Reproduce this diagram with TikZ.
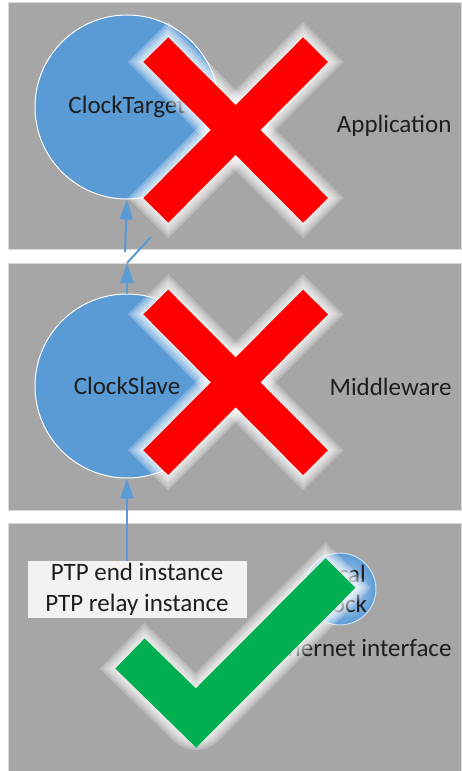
\documentclass[tikz,border=0pt]{standalone}
\usepackage{fontspec}
\setmainfont{Carlito}
\usetikzlibrary{arrows.meta}

\definecolor{panelgray}{HTML}{A6A6A6}
\definecolor{clockblue}{HTML}{5B9BD5}
\definecolor{clocklight}{HTML}{C9DDF2}
\definecolor{crossred}{HTML}{FF0000}
\definecolor{tickgreen}{HTML}{00B050}
\definecolor{boxwhite}{HTML}{F2F2F2}
\definecolor{inkdark}{HTML}{1E1E1E}

\tikzset{
  layerbox/.style={fill=panelgray, draw=gray!30, line width=1pt},
  layername/.style={anchor=east, text=inkdark, font=\fontsize{25}{30}\selectfont},
  clock/.style={circle, fill=clockblue, draw=white, line width=1pt,
    minimum size=184pt, inner sep=0pt, text=inkdark,
    font=\fontsize{25}{30}\selectfont},
  flow/.style={draw=clockblue, line width=2pt,
    -{Triangle[length=20pt, width=13pt]}},
  wire/.style={draw=clockblue, line width=2pt},
  halo/.style={white, opacity=0.24, line cap=rect, line join=round}
}

\begin{document}
\begin{tikzpicture}[x=1pt,y=-1pt]

  \useasboundingbox (0,0) rectangle (461,771);

  % layers
  \draw[layerbox] (8,2) rectangle (461,249);
  \draw[layerbox] (8,263) rectangle (461,510);
  \draw[layerbox] (8,523) rectangle (461,772);

  \node[layername] (app) at (455,126) {Application};
  \node[layername] (mid) at (455,387) {Middleware};
  \node[layername] (eth) at (455,648) {Ethernet interface};

  % clocks
  \node[clock] (target) at (127,107) {ClockTarget};
  \node[clock] (slave) at (127,386) {ClockSlave};
  \node[circle, draw=white!70!clockblue, line width=1pt, inner sep=0pt,
    shading=radial, inner color=clocklight, outer color=clockblue,
    text=inkdark, align=center, font=\fontsize{25}{30}\selectfont]
    (local) at (340,589) {Local\\Clock};

  % ptp instances
  \node[fill=boxwhite, minimum width=219pt, minimum height=57pt,
    inner sep=0pt, align=center, text=inkdark,
    font=\fontsize{25}{31}\selectfont]
    (ptp) at (137,589.5) {PTP end instance\\PTP relay instance};

  % connectors
  \coordinate (kink) at (127,263);
  \coordinate (kinkend) at (151,237);
  \coordinate (stub) at (125,252);
  \draw[flow] (ptp.north -| slave.south) -- (slave.south);
  \draw[flow] (slave.north) -- (kink);
  \draw[wire] (kink) -- (kinkend);
  \draw[flow] (stub) -- (target.south);

  % crosses with glow
  \foreach \cy in {130,382.3} {
    \foreach \w in {57,52,47,43,39} {
      \draw[halo, line width=\w pt, shorten <=17.5pt, shorten >=17.5pt]
        (155.8,\cy-80.3) -- (315.5,\cy+80.3);
      \draw[halo, line width=\w pt, shorten <=17.5pt, shorten >=17.5pt]
        (315.5,\cy-80.3) -- (155.8,\cy+80.3);
    }
    \draw[crossred, line width=35pt]
      (155.8,\cy-80.3) -- (315.5,\cy+80.3)
      (315.5,\cy-80.3) -- (155.8,\cy+80.3);
  }

  % tick with glow
  \foreach \w in {64,59,54,50,46}
    \draw[halo, line width=\w pt, shorten <=21pt, shorten >=21pt]
      (130,653.5) -- (196,718) -- (340.5,573);
  \draw[tickgreen, line width=42pt, line join=miter]
    (130,653.5) -- (196,718) -- (340.5,573);

\end{tikzpicture}
\end{document}
